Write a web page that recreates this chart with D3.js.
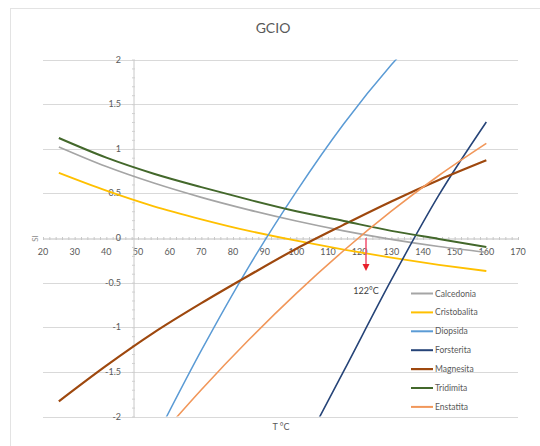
<!DOCTYPE html>
<html>
<head>
<meta charset="utf-8">
<script src="https://cdn.jsdelivr.net/npm/d3@7/dist/d3.min.js"></script>
<style>
  html, body { margin: 0; padding: 0; background: #fff; }
  svg { display: block; font-family: Lato, "Open Sans", "DejaVu Sans", sans-serif; }
</style>
</head>
<body>
<svg id="chart" width="540" height="446"></svg>
<script>
// Temperatures (°C) at which each curve is sampled
const temps = [25, 40, 55, 70, 85, 100, 115, 130, 145, 160];

// Saturation index of each mineral at those temperatures (null = off the chart)
const calcedonia   = [1.02, 0.80, 0.615, 0.455, 0.315, 0.19, 0.08, -0.015, -0.095, -0.16];
const cristobalita = [0.73, 0.53, 0.355, 0.21, 0.08, -0.03, -0.13, -0.22, -0.30, -0.37];
const diopsida     = [null, null, -2.28, -1.26, -0.32, 0.52, 1.28, 1.94, 2.51, null];
const forsterita   = [null, null, null, null, null, -2.50, -1.49, -0.47, 0.48, 1.30];
const magnesita    = [-1.83, -1.43, -1.06, -0.73, -0.42, -0.12, 0.15, 0.41, 0.65, 0.87];
const tridimita    = [1.12, 0.90, 0.72, 0.57, 0.43, 0.30, 0.19, 0.08, -0.01, -0.10];
const enstatita    = [null, null, -2.30, -1.70, -1.14, -0.62, -0.14, 0.30, 0.70, 1.06];

const seriesNames  = ["Calcedonia", "Cristobalita", "Diopsida", "Forsterita", "Magnesita", "Tridimita", "Enstatita"];
const seriesValues = [calcedonia, cristobalita, diopsida, forsterita, magnesita, tridimita, enstatita];
const seriesColors = ["#a5a5a5", "#ffc000", "#5b9bd5", "#264478", "#9e480e", "#43682b", "#f1975a"];
const seriesWidths = [1.6, 1.8, 1.5, 1.6, 2.2, 2.0, 1.6];

// Axis ticks
const xTicks = [20, 30, 40, 50, 60, 70, 80, 90, 100, 110, 120, 130, 140, 150, 160, 170];
const yTicks = [-2, -1.5, -1, -0.5, 0, 0.5, 1, 1.5, 2];
const yTickLabels = ["-2", "-1.5", "-1", "-0.5", "0", "0.5", "1", "1.5", "2"];

// Annotation: temperature where silica reaches equilibrium
const markTemp = 122;
const markLabel = "122°C";
const yAxisCross = 48.5;

const svg = d3.select("#chart");
const textColor = "#595959";

// Faint outer frame
svg.append("rect")
  .attr("x", 10.5).attr("y", 8.5).attr("width", 560).attr("height", 470)
  .attr("fill", "#fff").attr("stroke", "#e3e3e3");

const x = d3.scaleLinear().domain([20, 170]).range([43, 518]);
const y = d3.scaleLinear().domain([-2, 2]).range([416.5, 59.5]);

// Title
svg.append("text")
  .attr("x", 273).attr("y", 33)
  .attr("text-anchor", "middle")
  .attr("font-size", 14).attr("fill", textColor)
  .text("GCIO");

// Horizontal gridlines
svg.append("g").selectAll("line").data(yTicks.filter(v => v !== 0)).join("line")
  .attr("x1", x(20)).attr("x2", x(170))
  .attr("y1", d => Math.round(y(d)) + 0.5).attr("y2", d => Math.round(y(d)) + 0.5)
  .attr("stroke", "#d9d9d9").attr("stroke-width", 1);

// X axis along SI = 0
const x0 = Math.round(y(0)) + 0.5;
const xAxis = d3.axisBottom(x)
  .tickValues(d3.range(20, 171, 2))
  .tickSize(3).tickSizeOuter(0)
  .tickFormat("");
const gx = svg.append("g").attr("transform", `translate(0,${x0 - 1.5})`).call(xAxis);
gx.select(".domain").attr("stroke", "#bfbfbf").attr("transform", "translate(0,1.5)");
gx.selectAll(".tick line").attr("stroke", "#c8c8c8");
svg.append("g").selectAll("text").data(xTicks).join("text")
  .attr("x", d => x(d)).attr("y", x0 + 16)
  .attr("text-anchor", "middle")
  .attr("font-size", 9).attr("fill", textColor)
  .text(d => d);

// Y axis crossing near 48.5 °C
const yx = Math.round(x(yAxisCross)) + 0.5;
const yAxis = d3.axisLeft(y)
  .tickValues(d3.range(-20, 21).map(v => v / 10))
  .tickSize(3).tickSizeOuter(0)
  .tickFormat("");
const gy = svg.append("g").attr("transform", `translate(${yx + 1.5},0)`).call(yAxis);
gy.select(".domain").attr("stroke", "#c8c8c8").attr("transform", "translate(-1.5,0)");
gy.selectAll(".tick line").attr("stroke", "#d0d0d0");
svg.append("g").selectAll("text").data(yTicks).join("text")
  .attr("x", 121).attr("y", d => y(d) + 3)
  .attr("text-anchor", "end")
  .attr("font-size", 9).attr("fill", textColor)
  .text((d, i) => yTickLabels[i]);

// Axis titles
svg.append("text")
  .attr("transform", `translate(38,${x0}) rotate(-90)`)
  .attr("text-anchor", "middle")
  .attr("font-size", 8).attr("fill", "#8c8c8c")
  .text("SI");
svg.append("text")
  .attr("x", 281).attr("y", 430)
  .attr("text-anchor", "middle")
  .attr("font-size", 9).attr("fill", textColor)
  .text("T °C");

// Clip curves to the plotting area
svg.append("clipPath").attr("id", "plot")
  .append("rect")
  .attr("x", x(20)).attr("y", y(2))
  .attr("width", x(170) - x(20)).attr("height", y(-2) - y(2));

const line = d3.line()
  .defined(d => d[1] !== null)
  .x(d => x(d[0])).y(d => y(d[1]))
  .curve(d3.curveMonotoneX);

const curves = svg.append("g").attr("clip-path", "url(#plot)");
seriesValues.forEach((vals, i) => {
  curves.append("path")
    .datum(temps.map((t, j) => [t, vals[j]]))
    .attr("fill", "none")
    .attr("stroke", seriesColors[i])
    .attr("stroke-width", seriesWidths[i])
    .attr("stroke-linejoin", "round")
    .attr("d", line);
});

// Equilibrium marker arrow
const ax = x(markTemp);
svg.append("line")
  .attr("x1", ax).attr("x2", ax)
  .attr("y1", y(0)).attr("y2", y(0) + 27)
  .attr("stroke", "#f0506e").attr("stroke-width", 1.5);
svg.append("path")
  .attr("d", `M${ax - 3.5},${y(0) + 26} L${ax + 3.5},${y(0) + 26} L${ax},${y(0) + 33} Z`)
  .attr("fill", "#e8202a");
svg.append("text")
  .attr("x", ax).attr("y", 294)
  .attr("text-anchor", "middle")
  .attr("font-size", 9).attr("fill", "#404040")
  .text(markLabel);

// Legend
const legend = svg.append("g");
seriesNames.forEach((name, i) => {
  const ly = 293.5 + i * 18.9;
  legend.append("line")
    .attr("x1", 411).attr("x2", 433)
    .attr("y1", ly).attr("y2", ly)
    .attr("stroke", seriesColors[i])
    .attr("stroke-width", Math.max(2, seriesWidths[i]));
  legend.append("text")
    .attr("x", 435).attr("y", ly + 3)
    .attr("font-size", 8.5).attr("fill", textColor)
    .text(name);
});
</script>
</body>
</html>
